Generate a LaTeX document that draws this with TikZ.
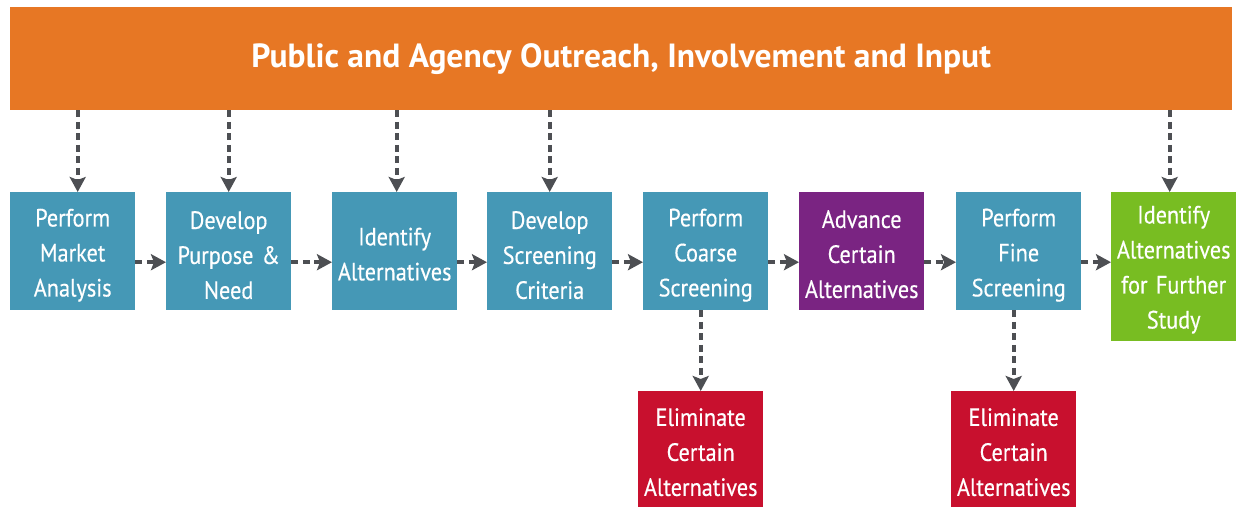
\documentclass[tikz,border=0pt]{standalone}
\usepackage{fontspec}
\setmainfont{PT Sans}[FakeStretch=0.89, FakeBold=0.4]
\newfontfamily\titlefont{PT Sans}
\usetikzlibrary{arrows.meta}
\definecolor{cOrange}{HTML}{E77724}
\definecolor{cTeal}{HTML}{4598B6}
\definecolor{cPurple}{HTML}{7A2482}
\definecolor{cGreen}{HTML}{78BD22}
\definecolor{cRed}{HTML}{C8102E}
\definecolor{cArrow}{HTML}{4D4F53}
\newcommand\mkbox[6]{%
  \node[boxstyle, fill=#3, minimum height=#4] (#1) at (#2) {};
  \node[txtstyle] (#1t) at ([yshift=#5]#1.center) {#6};}
\begin{document}
\begin{tikzpicture}[x=1pt,y=-1pt,
  boxstyle/.style={rectangle, anchor=north west, inner sep=0pt, minimum width=125pt},
  txtstyle/.style={inner sep=0pt, text width=125pt, align=center, text=white, font=\fontsize{25}{35}\selectfont},
  arr/.style={draw=cArrow, line width=4pt, dash pattern=on 7pt off 4.5pt,
    -{Stealth[width=16pt,length=15pt,inset=3pt]}}]
\useasboundingbox (0,0) rectangle (1238,506);
\node[rectangle, fill=cOrange, anchor=north west, inner sep=0pt, minimum width=1222pt, minimum height=103pt,
  text=white, font=\titlefont\bfseries\fontsize{33.5}{38}\selectfont] (bar) at (10,7) {Public and Agency Outreach, Involvement and Input};
\mkbox{b1}{10,192}{cTeal}{118pt}{-4pt}{Perform\\Market\\Analysis}
\mkbox{b2}{166,192}{cTeal}{118pt}{-4pt}{Develop\\Purpose \&\\Need}
\mkbox{b3}{332,192}{cTeal}{118pt}{-3pt}{Identify\\Alternatives}
\mkbox{b4}{487,192}{cTeal}{118pt}{-4pt}{Develop\\Screening\\Criteria}
\mkbox{b5}{643,192}{cTeal}{118pt}{-4pt}{Perform\\Coarse\\Screening}
\mkbox{b6}{799,192}{cPurple}{118pt}{-3pt}{Advance\\Certain\\Alternatives}
\mkbox{b7}{956,192}{cTeal}{118pt}{-4pt}{Perform\\Fine\\Screening}
\mkbox{b8}{1111,192}{cGreen}{149pt}{-3pt}{Identify\\Alternatives\\for Further\\Study}
\mkbox{r1}{638,391}{cRed}{122pt}{0pt}{Eliminate\\Certain\\Alternatives}
\mkbox{r2}{951,391}{cRed}{122pt}{0pt}{Eliminate\\Certain\\Alternatives}
% from top bar
\draw[arr] ([xshift=5pt]b1.north |- bar.south) -- ([xshift=5pt]b1.north);
\draw[arr] (b2.north |- bar.south) -- (b2.north);
\draw[arr] ([xshift=2pt]b3.north |- bar.south) -- ([xshift=2pt]b3.north);
\draw[arr] (b4.north |- bar.south) -- (b4.north);
\draw[arr] ([xshift=-4pt]b8.north |- bar.south) -- ([xshift=-4pt]b8.north);
% horizontal chain
\foreach \a/\b in {b1/b2,b2/b3,b3/b4,b4/b5,b5/b6,b6/b7,b7/b8}
  \draw[arr] ([yshift=-11pt]\a.east) -- ([yshift=-11pt]\a.east -| \b.west);
% down
\draw[arr] (b5.south -| r1.north) -- (r1.north);
\draw[arr] (b7.south -| r2.north) -- (r2.north);
\end{tikzpicture}
\end{document}
